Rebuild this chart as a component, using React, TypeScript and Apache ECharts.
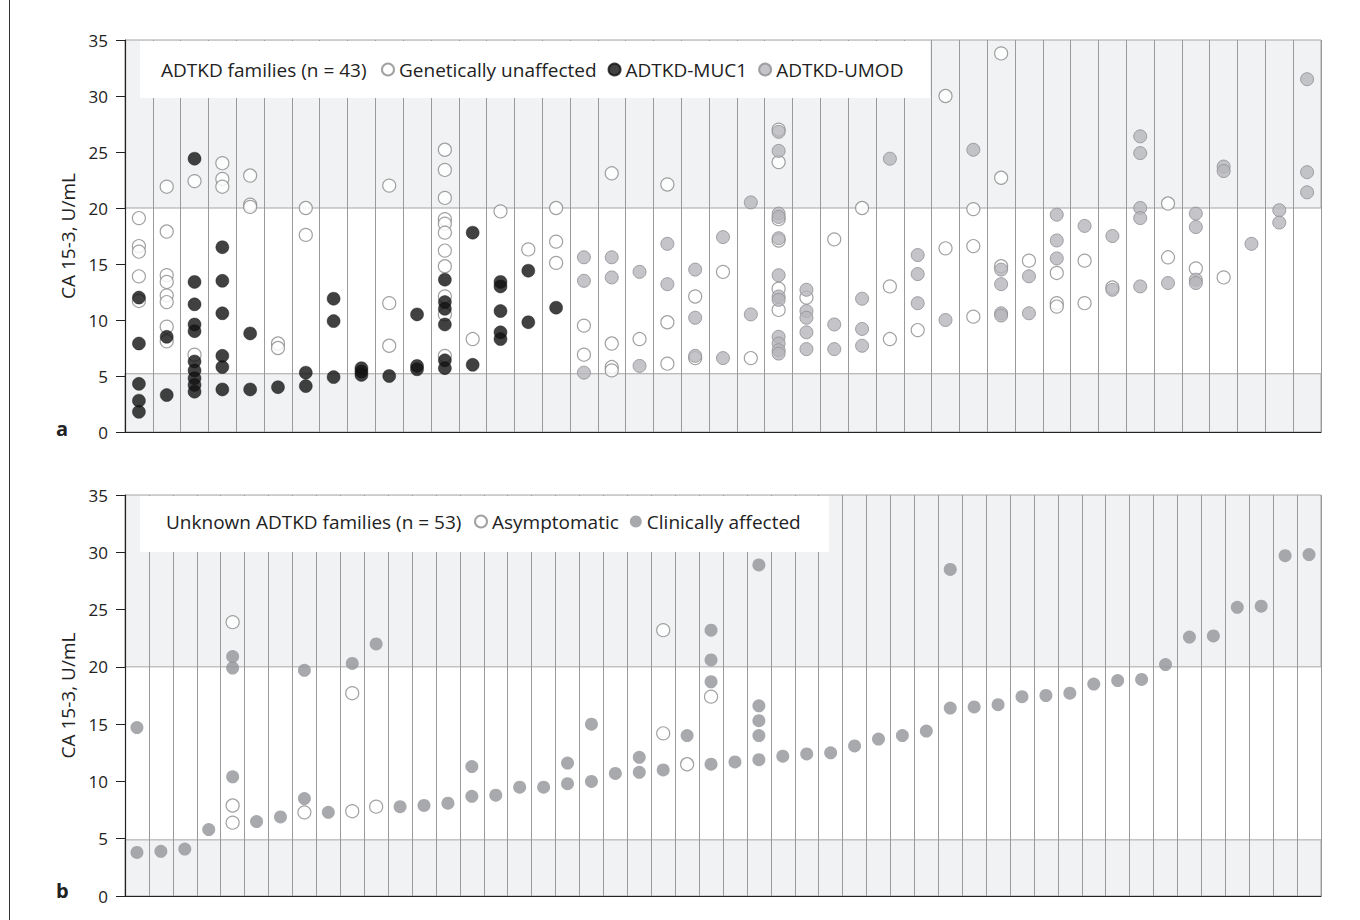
import React, { useEffect, useRef } from "react";
import * as echarts from "echarts";

const FONT = "'Open Sans', 'Noto Sans', sans-serif";

// ---------- Panel a: ADTKD families (43 columns) ----------
const familiesA: string[] = Array.from({ length: 43 }, (_, i) => `A${i + 1}`);

const aUnaffected: number[][] = [
  [19.1, 16.6, 16.1, 13.9, 11.7],
  [21.9, 17.9, 14.0, 13.4, 12.2, 11.6, 9.4, 8.1],
  [22.4, 6.9],
  [24.0, 22.6, 21.9],
  [22.9, 20.3, 20.1],
  [7.9, 7.5],
  [20.0, 17.6],
  [],
  [],
  [22.0, 11.5, 7.7],
  [],
  [25.2, 23.4, 20.9, 19.0, 18.6, 17.8, 16.2, 14.8, 12.1, 10.5, 6.8],
  [8.3],
  [19.7],
  [16.3],
  [20.0, 17.0, 15.1],
  [9.5, 6.9],
  [23.1, 7.9, 5.8, 5.5],
  [8.3],
  [22.1, 9.8, 6.1],
  [12.1, 6.6],
  [14.3],
  [6.6],
  [27.0, 24.1, 19.0, 17.1, 12.8, 10.9],
  [12.0],
  [17.2],
  [20.0],
  [13.0, 8.3],
  [9.1],
  [30.0, 16.4],
  [19.9, 16.6, 10.3],
  [33.8, 22.7, 14.8],
  [15.3],
  [14.2, 11.5, 11.2],
  [15.3, 11.5],
  [12.9],
  [],
  [20.4, 15.6],
  [14.6],
  [13.8],
  [],
  [],
  [],
];

const aMUC1: number[][] = [
  [12.0, 7.9, 4.3, 2.8, 1.8],
  [8.5, 3.3],
  [24.4, 13.4, 11.4, 9.6, 9.0, 6.3, 5.5, 4.8, 4.2, 3.6],
  [16.5, 13.5, 10.6, 6.8, 5.8, 3.8],
  [8.8, 3.8],
  [4.0],
  [5.3, 4.1],
  [11.9, 9.9, 4.9],
  [5.7, 5.4, 5.1],
  [5.0],
  [10.5, 5.9, 5.6],
  [13.6, 11.6, 11.0, 9.6, 6.4, 5.7],
  [17.8, 6.0],
  [13.4, 13.0, 10.8, 8.9, 8.3],
  [14.4, 9.8],
  [11.1],
];

const aUMOD: number[][] = [
  [], [], [], [], [], [], [], [], [], [], [], [], [], [], [], [],
  [15.6, 13.5, 5.3],
  [15.6, 13.8],
  [14.3, 5.9],
  [16.8, 13.2],
  [14.5, 10.2, 6.8],
  [17.4, 6.6],
  [20.5, 10.5],
  [26.8, 25.1, 19.5, 19.2, 17.3, 14.0, 12.1, 11.8, 8.5, 7.9, 7.3, 7.0],
  [12.7, 10.8, 10.2, 8.9, 7.4],
  [9.6, 7.4],
  [11.9, 9.2, 7.7],
  [24.4],
  [15.8, 14.1, 11.5],
  [10.0],
  [25.2],
  [14.5, 13.2, 10.6, 10.4],
  [13.9, 10.6],
  [19.4, 17.1, 15.5],
  [18.4],
  [17.5, 12.7],
  [26.4, 24.9, 20.0, 19.1, 13.0],
  [13.3],
  [19.5, 18.3, 13.6, 13.3],
  [23.7, 23.3],
  [16.8],
  [19.8, 18.7],
  [31.5, 23.2, 21.4],
];

// ---------- Panel b: unknown ADTKD families (50 columns) ----------
const familiesB: string[] = Array.from({ length: 50 }, (_, i) => `B${i + 1}`);

const bAsymptomatic: number[][] = [
  [], [], [], [],
  [23.9, 7.9, 6.4],
  [], [],
  [7.3],
  [],
  [17.7, 7.4],
  [7.8],
  [], [], [], [], [], [], [], [], [], [], [],
  [23.2, 14.2],
  [11.5],
  [17.4],
];

const bClinical: number[][] = [
  [14.7, 3.8],
  [3.9],
  [4.1],
  [5.8],
  [20.9, 19.9, 10.4],
  [6.5],
  [6.9],
  [19.7, 8.5],
  [7.3],
  [20.3],
  [22.0],
  [7.8],
  [7.9],
  [8.1],
  [11.3, 8.7],
  [8.8],
  [9.5],
  [9.5],
  [11.6, 9.8],
  [15.0, 10.0],
  [10.7],
  [12.1, 10.8],
  [11.0],
  [14.0],
  [23.2, 20.6, 18.7, 11.5],
  [11.7],
  [28.9, 16.6, 15.3, 14.0, 11.9],
  [12.2],
  [12.4],
  [12.5],
  [13.1],
  [13.7],
  [14.0],
  [14.4],
  [28.5, 16.4],
  [16.5],
  [16.7],
  [17.4],
  [17.5],
  [17.7],
  [18.5],
  [18.8],
  [18.9],
  [20.2],
  [22.6],
  [22.7],
  [25.2],
  [25.3],
  [29.7],
  [29.8],
];

// reference bands (shaded)
const bandsA: number[][] = [[0, 5.2], [20, 35]];
const bandsB: number[][] = [[0, 4.9], [20, 35]];

const yTicksMax = 35;
const yTickStep = 5;

function pts(cols: number[][]): number[][] {
  return cols.flatMap((vals, i) => vals.map((v) => [i, v]));
}

const OPEN_STYLE = { color: "#ffffff", borderColor: "#8a8a8a", borderWidth: 1.2 };
const BLACK_STYLE = { color: "#111111", borderColor: "#111111", borderWidth: 0.5 };
const UMOD_STYLE = { color: "#b6b7bb", borderColor: "#8e8f93", borderWidth: 1 };
const CLIN_STYLE = { color: "#929397", borderColor: "#929397", borderWidth: 0 };

function xAxisFor(cats: string[], gridIndex: number) {
  return {
    type: "category",
    gridIndex,
    data: cats,
    boundaryGap: true,
    z: 2,
    axisLine: { show: true, lineStyle: { color: "#222", width: 1.2 } },
    axisTick: { show: false },
    axisLabel: { show: false },
    splitLine: { show: true, interval: 0, lineStyle: { color: "#9a9a9a", width: 1 } },
  };
}

function yAxisFor(gridIndex: number) {
  return {
    type: "value",
    gridIndex,
    min: 0,
    max: yTicksMax,
    interval: yTickStep,
    z: 2,
    name: "CA 15-3, U/mL",
    nameLocation: "middle",
    nameGap: 48,
    nameTextStyle: { fontFamily: FONT, fontSize: 19, color: "#222" },
    axisLine: { show: true, lineStyle: { color: "#222", width: 1.2 } },
    axisTick: { show: true, inside: false, length: 9, lineStyle: { color: "#222" } },
    axisLabel: { fontFamily: FONT, fontSize: 17, color: "#222", margin: 17 },
    splitLine: { show: false },
  };
}

function bandSeries(bands: number[][], idx: number) {
  return {
    type: "line",
    xAxisIndex: idx,
    yAxisIndex: idx,
    data: [],
    z: 1,
    silent: true,
    markArea: {
      silent: true,
      itemStyle: { color: "#f1f2f4", borderColor: "#a5a5a5", borderWidth: 1 },
      data: bands.map((b) => [{ yAxis: b[0] }, { yAxis: b[1] }]),
    },
  };
}

function scatter(name: string, cols: number[][], idx: number, style: any) {
  return {
    name,
    type: "scatter",
    xAxisIndex: idx,
    yAxisIndex: idx,
    data: pts(cols),
    symbol: "circle",
    symbolSize: 13,
    itemStyle: style,
    z: 5,
    emphasis: { disabled: true },
  };
}

export default function App() {
  const ref = useRef<HTMLDivElement>(null);

  useEffect(() => {
    if (!ref.current) return;
    const chart = echarts.init(ref.current, undefined, { renderer: "svg" });
    const legendText = { fontFamily: FONT, fontSize: 19, color: "#222" };
    chart.setOption({
      animation: false,
      backgroundColor: "#ffffff",
      grid: [
        { left: 125, top: 40, width: 1196, height: 392 },
        { left: 125, top: 495, width: 1196, height: 401 },
      ],
      xAxis: [xAxisFor(familiesA, 0), xAxisFor(familiesB, 1)],
      yAxis: [yAxisFor(0), yAxisFor(1)],
      legend: [
        {
          data: ["Genetically unaffected", "ADTKD-MUC1", "ADTKD-UMOD"],
          left: 381,
          top: 60,
          padding: 0,
          itemWidth: 12,
          itemHeight: 12,
          itemGap: 11,
          icon: "circle",
          selectedMode: false,
          textStyle: legendText,
          z: 4,
        },
        {
          data: ["Asymptomatic", "Clinically affected"],
          left: 474,
          top: 512,
          padding: 0,
          itemWidth: 12,
          itemHeight: 12,
          itemGap: 11,
          icon: "circle",
          selectedMode: false,
          textStyle: legendText,
          z: 4,
        },
      ],
      graphic: [
        { type: "rect", z: 3, shape: { x: 140, y: 41, width: 790, height: 57 }, style: { fill: "#ffffff" } },
        { type: "rect", z: 3, shape: { x: 140, y: 496, width: 689, height: 56 }, style: { fill: "#ffffff" } },
        {
          type: "text", z: 4, x: 161, y: 70,
          style: { text: "ADTKD families (n = 43)", font: `19px ${FONT}`, fill: "#222", verticalAlign: "middle" },
        },
        {
          type: "text", z: 4, x: 166, y: 522,
          style: { text: "Unknown ADTKD families (n = 53)", font: `19px ${FONT}`, fill: "#222", verticalAlign: "middle" },
        },
        {
          type: "text", z: 4, x: 56, y: 428,
          style: { text: "a", font: `bold 20px ${FONT}`, fill: "#222", verticalAlign: "middle" },
        },
        {
          type: "text", z: 4, x: 56, y: 890,
          style: { text: "b", font: `bold 20px ${FONT}`, fill: "#222", verticalAlign: "middle" },
        },
        { type: "line", z: 4, shape: { x1: 9.5, y1: 0, x2: 9.5, y2: 920 }, style: { stroke: "#333", lineWidth: 1 } },
      ],
      series: [
        bandSeries(bandsA, 0),
        bandSeries(bandsB, 1),
        scatter("Genetically unaffected", aUnaffected, 0, OPEN_STYLE),
        scatter("ADTKD-MUC1", aMUC1, 0, BLACK_STYLE),
        scatter("ADTKD-UMOD", aUMOD, 0, UMOD_STYLE),
        scatter("Asymptomatic", bAsymptomatic, 1, OPEN_STYLE),
        scatter("Clinically affected", bClinical, 1, CLIN_STYLE),
      ],
    });
    return () => chart.dispose();
  }, []);

  return (
    <div
      ref={ref}
      style={{ position: "absolute", left: 0, top: 0, width: 1360, height: 920 }}
    />
  );
}
